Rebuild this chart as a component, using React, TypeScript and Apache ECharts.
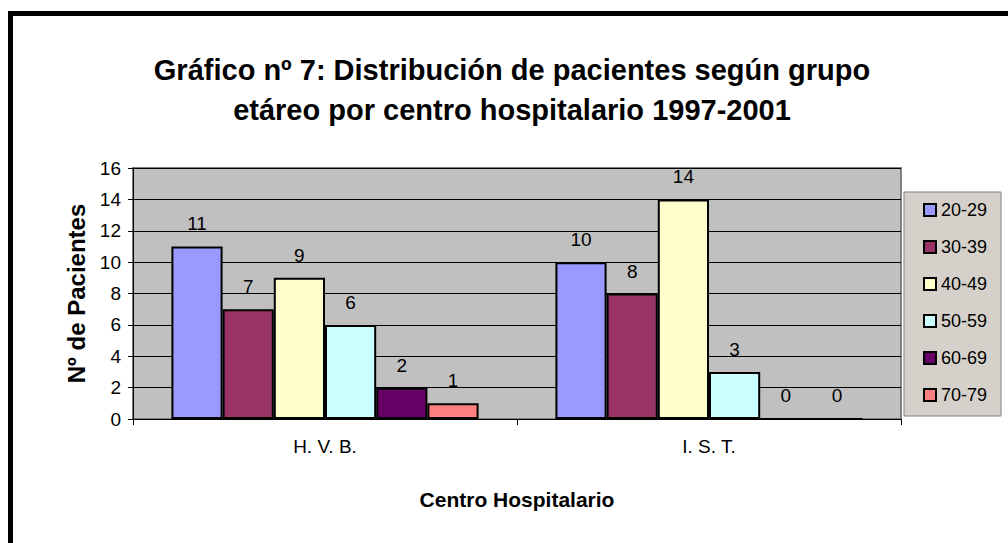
import React, { useEffect, useRef } from "react";
import * as echarts from "echarts";

const categories = ["H. V. B.", "I. S. T."];
const groups = ["20-29", "30-39", "40-49", "50-59", "60-69", "70-79"];
const values = [
  [11, 10],
  [7, 8],
  [9, 14],
  [6, 3],
  [2, 0],
  [1, 0],
];
const colors = ["#9999ff", "#993366", "#ffffcc", "#ccffff", "#660066", "#ff8080"];
const yTicks = [0, 2, 4, 6, 8, 10, 12, 14, 16];

export default function App() {
  const ref = useRef<HTMLDivElement>(null);
  useEffect(() => {
    const chart = echarts.init(ref.current!, null, { renderer: "svg" });
    const font = "'Liberation Sans', Arial, sans-serif";
    chart.setOption({
      animation: false,
      backgroundColor: "#ffffff",
      textStyle: { fontFamily: font },
      title: {
        text: "Gráfico nº 7: Distribución de pacientes según grupo\netáreo por centro hospitalario 1997-2001",
        left: 507,
        top: 45,
        textAlign: "center",
        textStyle: { fontFamily: font, fontSize: 29, fontWeight: "bold", color: "#000", lineHeight: 40 },
      },
      legend: {
        orient: "vertical",
        left: 904,
        top: 192,
        itemWidth: 12,
        itemHeight: 12,
        itemGap: 19,
        icon: "rect",
        backgroundColor: "#d6d0ca",
        borderColor: "#808080",
        borderWidth: 1,
        padding: [9, 14, 12, 19],
        textStyle: { fontFamily: font, fontSize: 18, color: "#000", lineHeight: 14 },
        itemStyle: { borderColor: "#000", borderWidth: 2 },
        data: groups,
      },
      grid: { left: 133, right: 107, top: 168, bottom: 124, show: true, backgroundColor: "#c0c0c0", borderColor: "#808080", borderWidth: 2 },
      xAxis: {
        type: "category",
        data: categories,
        name: "Centro Hospitalario",
        nameLocation: "middle",
        nameGap: 70,
        nameTextStyle: { fontFamily: font, fontSize: 21, fontWeight: "bold", color: "#000" },
        axisLine: { lineStyle: { color: "#000", width: 1 } },
        axisTick: { show: true, length: 6, lineStyle: { color: "#000" } },
        axisLabel: { fontFamily: font, fontSize: 19, color: "#000", margin: 18 },
      },
      yAxis: {
        type: "value",
        min: yTicks[0],
        max: yTicks[yTicks.length - 1],
        interval: 2,
        name: "Nº de Pacientes",
        nameLocation: "middle",
        nameGap: 42,
        nameTextStyle: { fontFamily: font, fontSize: 24, fontWeight: "bold", color: "#000" },
        axisLine: { show: true, lineStyle: { color: "#000", width: 1 } },
        axisTick: { show: true, length: 5, lineStyle: { color: "#000" } },
        axisLabel: { fontFamily: font, fontSize: 19, color: "#000", margin: 12 },
        splitLine: { show: true, lineStyle: { color: "#000", width: 1 } },
      },
      series: groups.map((g, i) => ({
        type: "bar",
        name: g,
        data: values[i],
        barGap: "0%",
        barCategoryGap: "20%",
        itemStyle: { color: colors[i], borderColor: "#000", borderWidth: 2 },
        label: { show: true, position: "top", distance: 13, fontFamily: font, fontSize: 19, color: "#000" },
      })),
      graphic: [
        {
          type: "rect",
          shape: { x: 10.5, y: 13.5, width: 1200, height: 800 },
          style: { fill: "none", stroke: "#000", lineWidth: 5 },
          silent: true,
        },
      ],
    });
    return () => chart.dispose();
  }, []);
  return <div ref={ref} style={{ position: "fixed", left: 0, top: 0, width: 1008, height: 543 }} />;
}
